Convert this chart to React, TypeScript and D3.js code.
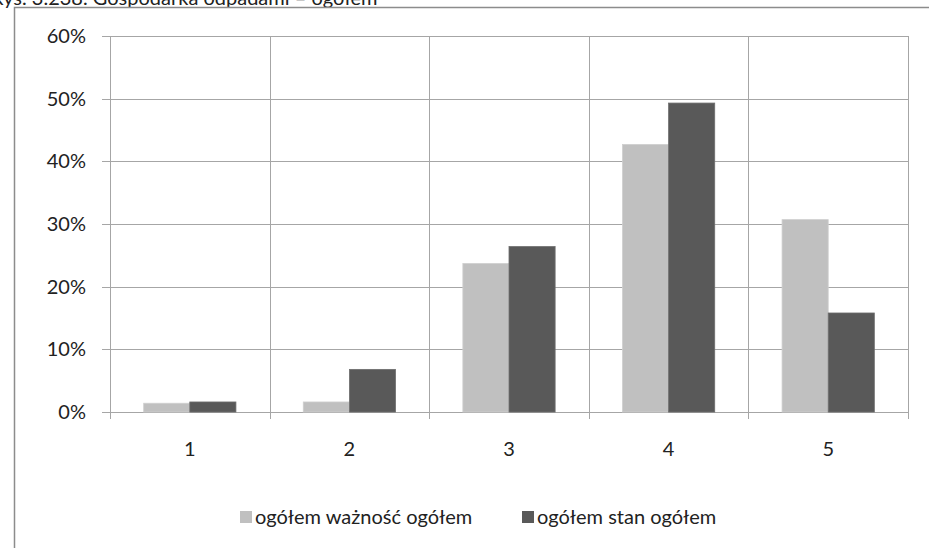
import React, { useEffect, useRef } from 'react'
import * as d3 from 'd3'

const categories = ['1', '2', '3', '4', '5']
const seriesNames = ['ogółem ważność ogółem', 'ogółem stan ogółem']
const importanceValues = [1.4, 1.6, 23.7, 42.7, 30.7]
const stateValues = [1.6, 6.8, 26.4, 49.3, 15.8]
const yTicks = [0, 10, 20, 30, 40, 50, 60]
const titleText = 'Rys. 3.238. Gospodarka odpadami – ogółem'

const WIDTH = 929
const HEIGHT = 548
const FONT = 'Lato, "Open Sans", sans-serif'
const COLORS = ['#c0c0c0', '#595959']

const App: React.FC = () => {
  const svgRef = useRef<SVGSVGElement>(null)

  useEffect(() => {
    const svg = d3.select(svgRef.current)
    svg.selectAll('*').remove()

    const margin = { top: 36, right: 21, bottom: 136, left: 110 }
    const innerWidth = WIDTH - margin.left - margin.right
    const innerHeight = HEIGHT - margin.top - margin.bottom

    // tytuł (ucięty u góry)
    svg.append('text')
      .attr('x', -9)
      .attr('y', 5)
      .attr('font-family', FONT)
      .attr('font-size', '20px')
      .attr('fill', '#222')
      .text(titleText)

    // ramka wykresu
    svg.append('path')
      .attr('d', `M14.5,${HEIGHT} L14.5,7.5 L${WIDTH},7.5`)
      .attr('fill', 'none')
      .attr('stroke', '#8c8c8c')
      .attr('stroke-width', 1.5)

    const g = svg.append('g')
      .attr('transform', `translate(${margin.left},${margin.top})`)

    const x0 = d3.scaleBand<string>()
      .domain(categories)
      .range([0, innerWidth])

    const x1 = d3.scaleBand<number>()
      .domain([0, 1])
      .range([0, x0.bandwidth()])
      .paddingOuter(0.73)
      .paddingInner(0)

    const y = d3.scaleLinear()
      .domain([0, 60])
      .range([innerHeight, 0])

    // siatka pozioma
    g.selectAll('.hgrid')
      .data(yTicks)
      .enter()
      .append('line')
      .attr('x1', -8)
      .attr('x2', innerWidth)
      .attr('y1', d => Math.round(y(d)) + 0.5)
      .attr('y2', d => Math.round(y(d)) + 0.5)
      .attr('stroke', '#a6a6a6')
      .attr('stroke-width', 1)

    // siatka pionowa
    const bounds = categories.map(c => x0(c) || 0).concat([innerWidth])
    g.selectAll('.vgrid')
      .data(bounds)
      .enter()
      .append('line')
      .attr('x1', d => Math.round(d) + 0.5)
      .attr('x2', d => Math.round(d) + 0.5)
      .attr('y1', 0)
      .attr('y2', innerHeight + 7)
      .attr('stroke', '#a6a6a6')
      .attr('stroke-width', 1)

    // słupki
    const rows = categories.map((c, i) => ({ c, v: [importanceValues[i], stateValues[i]] }))
    const groups = g.selectAll('.grp')
      .data(rows)
      .enter()
      .append('g')
      .attr('transform', d => `translate(${x0(d.c)},0)`)

    groups.selectAll('rect')
      .data(d => d.v.map((v, s) => ({ v, s })))
      .enter()
      .append('rect')
      .attr('x', d => x1(d.s) || 0)
      .attr('y', d => y(d.v))
      .attr('width', x1.bandwidth())
      .attr('height', d => innerHeight - y(d.v))
      .attr('fill', d => COLORS[d.s])
      .attr('stroke', d => (d.s === 0 ? '#cfcfcf' : '#6e6e6e'))
      .attr('stroke-width', 0.8)

    // oś Y – etykiety
    g.selectAll('.ylab')
      .data(yTicks)
      .enter()
      .append('text')
      .attr('x', -24)
      .attr('y', d => y(d))
      .attr('dy', '0.35em')
      .attr('text-anchor', 'end')
      .attr('font-family', FONT)
      .attr('font-size', '20px')
      .attr('fill', '#222')
      .text(d => `${d}%`)

    // oś X – etykiety
    g.selectAll('.xlab')
      .data(categories)
      .enter()
      .append('text')
      .attr('x', d => (x0(d) || 0) + x0.bandwidth() / 2)
      .attr('y', innerHeight + 44)
      .attr('text-anchor', 'middle')
      .attr('font-family', FONT)
      .attr('font-size', '20px')
      .attr('fill', '#222')
      .text(d => d)

    // legenda
    const legendY = 517
    const legendX = [240, 522]
    seriesNames.forEach((name, i) => {
      svg.append('rect')
        .attr('x', legendX[i])
        .attr('y', legendY - 6)
        .attr('width', 12)
        .attr('height', 12)
        .attr('fill', COLORS[i])
      svg.append('text')
        .attr('x', legendX[i] + 15)
        .attr('y', legendY)
        .attr('dy', '0.35em')
        .attr('font-family', FONT)
        .attr('font-size', '20px')
        .attr('fill', '#222')
        .text(name)
    })
  }, [])

  return (
    <svg
      ref={svgRef}
      width={WIDTH}
      height={HEIGHT}
      style={{ position: 'absolute', left: 0, top: 0, background: '#fff' }}
    ></svg>
  )
}

export default App
